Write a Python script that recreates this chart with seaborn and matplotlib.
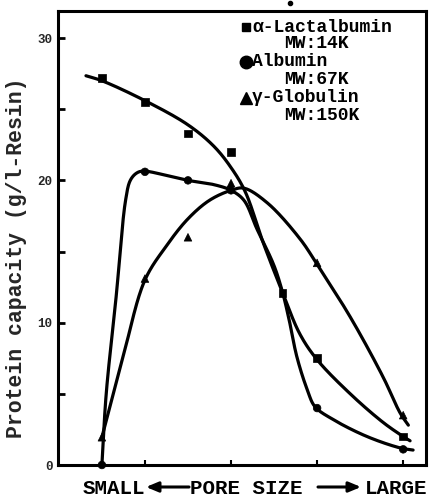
import numpy as np
import pandas as pd
import matplotlib
matplotlib.use("Agg")
import matplotlib.pyplot as plt
import seaborn as sns

# Measured capacities (g/l resin) against pore-size position (small -> large)
lact_x = [0, 1, 2, 3, 4.2, 5, 7]
lact_y = [27.2, 25.5, 23.3, 22.0, 12.1, 7.5, 2.0]
alb_x = [0, 1, 2, 3, 5, 7]
alb_y = [0.0, 20.6, 20.0, 19.3, 4.0, 1.1]
glob_x = [0, 1, 2, 3, 5, 7]
glob_y = [1.95, 13.1, 16.0, 19.8, 14.2, 3.5]

# Hand-drawn trend curves (knots along each freehand line)
lact_curve_x = [-0.37, 0.0, 1.0, 2.0, 2.6, 3.0, 3.33, 3.75, 4.2, 4.6, 5.0, 5.77, 6.53, 7.0, 7.16]
lact_curve_y = [27.35, 27.0, 25.6, 23.9, 22.4, 20.9, 19.2, 15.6, 12.1, 9.2, 7.4, 5.0, 3.0, 2.0, 1.7]
alb_curve_x = [0.0, 0.1, 0.33, 0.55, 0.66, 0.8, 0.95, 1.5, 2.0, 2.6, 3.0, 3.3, 3.6, 4.0, 4.2,
               4.35, 4.53, 4.77, 4.95, 5.37, 6.16, 6.93, 7.23]
alb_curve_y = [0.0, 5.0, 11.8, 18.6, 20.0, 20.5, 20.65, 20.35, 20.0, 19.7, 19.3, 18.6, 16.6, 14.0, 12.1,
               10.2, 7.6, 5.3, 4.1, 3.2, 2.0, 1.2, 1.05]
glob_curve_x = [0.0, 0.5, 1.0, 1.5, 2.0, 2.5, 3.0, 3.3, 3.85, 4.6, 5.0, 5.77, 6.53, 6.93, 7.12]
glob_curve_y = [1.95, 7.7, 13.0, 15.4, 17.3, 18.6, 19.3, 19.45, 18.4, 15.9, 14.1, 10.4, 6.2, 3.65, 2.8]

legend_names = ["α-Lactalbumin", "Albumin", "γ-Globulin"]
mw_labels = ["MW:14K", "MW:67K", "MW:150K"]
y_ticks = [0, 10, 20, 30]
y_minor = [5, 15, 25]
x_ticks = [1, 3, 5, 7]

# screen scale of one unit on each axis, used to space the spline evenly on screen
PX_X, PX_Y = 43.0, 14.23


def catmull_rom(xs, ys, n=30):
    """Smooth centripetal Catmull-Rom path through the given knots."""
    p = np.column_stack([np.asarray(xs) * PX_X, np.asarray(ys) * PX_Y]).astype(float)
    p = np.vstack([2 * p[0] - p[1], p, 2 * p[-1] - p[-2]])
    out = []
    for i in range(1, len(p) - 2):
        p0, p1, p2, p3 = p[i - 1], p[i], p[i + 1], p[i + 2]
        t0 = 0.0
        t1 = t0 + np.linalg.norm(p1 - p0) ** 0.5
        t2 = t1 + np.linalg.norm(p2 - p1) ** 0.5
        t3 = t2 + np.linalg.norm(p3 - p2) ** 0.5
        t = np.linspace(t1, t2, n)[:, None]
        a1 = (t1 - t) / (t1 - t0) * p0 + (t - t0) / (t1 - t0) * p1
        a2 = (t2 - t) / (t2 - t1) * p1 + (t - t1) / (t2 - t1) * p2
        a3 = (t3 - t) / (t3 - t2) * p2 + (t - t2) / (t3 - t2) * p3
        b1 = (t2 - t) / (t2 - t0) * a1 + (t - t0) / (t2 - t0) * a2
        b2 = (t3 - t) / (t3 - t1) * a2 + (t - t1) / (t3 - t1) * a3
        c = (t2 - t) / (t2 - t1) * b1 + (t - t1) / (t2 - t1) * b2
        out.append(c if i == 1 else c[1:])
    c = np.vstack(out)
    return c[:, 0] / PX_X, c[:, 1] / PX_Y


sns.set_theme(style="ticks")
plt.rcParams["font.family"] = ["Liberation Mono", "DejaVu Sans"]
plt.rcParams["font.weight"] = "bold"

W, H = 430, 498
fig = plt.figure(figsize=(W / 100, H / 100), dpi=100)
fig.patch.set_facecolor("white")
ax = fig.add_axes([58 / W, 1 - 465 / H, (426 - 58) / W, (465 - 11) / H])
ax.set_facecolor("white")

LW = 2.3
for cx, cy in [(lact_curve_x, lact_curve_y), (alb_curve_x, alb_curve_y), (glob_curve_x, glob_curve_y)]:
    sx, sy = catmull_rom(cx, cy)
    sns.lineplot(x=sx, y=sy, sort=False, estimator=None, color="black", lw=LW, ax=ax)

pts = pd.concat([
    pd.DataFrame({"x": lact_x, "y": lact_y, "protein": legend_names[0]}),
    pd.DataFrame({"x": alb_x, "y": alb_y, "protein": legend_names[1]}),
    pd.DataFrame({"x": glob_x, "y": glob_y, "protein": legend_names[2]}),
])
sns.scatterplot(data=pts, x="x", y="y", style="protein",
                markers={legend_names[0]: "s", legend_names[1]: "o", legend_names[2]: "^"},
                color="black", s=30, edgecolor="black", linewidth=0.5,
                legend=False, ax=ax, clip_on=False, zorder=5)

ax.set_xlim(-1.02, 7.53)
ax.set_ylim(0, 31.9)
ax.set_xlabel("")
ax.set_ylabel("")
ax.set_xticks(x_ticks)
ax.set_xticklabels([])
ax.set_yticks(y_ticks)
ax.set_yticklabels([str(v) for v in y_ticks])
ax.set_yticks(y_minor, minor=True)
ax.tick_params(axis="y", which="both", direction="in", length=5, width=2, pad=4,
               labelsize=9, color="black")
ax.tick_params(axis="x", which="both", direction="in", length=3.5, width=1.5, color="black")
for lab in ax.get_yticklabels():
    lab.set_fontweight("bold")
for sp in ax.spines.values():
    sp.set_visible(True)
    sp.set_linewidth(2.2)
    sp.set_color("black")

# Legend block
def fx(px):
    return px / W

def fy(py):
    return 1 - py / H

TXT = dict(fontsize=13, fontweight="bold", va="center", ha="left", color="black")
row_y = [27, 62, 98]
mw_y = [44, 80, 116]
marks = ["s", "o", "^"]
msz = [6, 9, 8]
for name, mw, ry, my, mk, ms in zip(legend_names, mw_labels, row_y, mw_y, marks, msz):
    ax.plot([fx(246)], [fy(ry)], marker=mk, ms=ms, color="black", transform=fig.transFigure,
            clip_on=False, ls="none")
    fig.text(fx(252), fy(ry), name, **TXT)
    fig.text(fx(284), fy(my), mw, **TXT)

# Axis titles
fig.text(fx(17), fy(258), "Protein capacity (g/l-Resin)", rotation=90, fontsize=15.5,
         fontweight="bold", va="center", ha="center")
XT = dict(fontsize=15, fontweight="bold", va="center", color="black")
fig.text(fx(83), fy(488), "SMALL", ha="left", **XT)
fig.text(fx(190), fy(488), "PORE SIZE", ha="left", **XT)
fig.text(fx(427), fy(488), "LARGE", ha="right", **XT)
arrow = dict(arrowstyle="-|>,head_length=0.6,head_width=0.25", lw=2.2, color="black",
             shrinkA=0, shrinkB=0)
ax.annotate("", xy=(146, H - 487), xytext=(189, H - 487), xycoords="figure pixels",
            textcoords="figure pixels", arrowprops=arrow, annotation_clip=False)
ax.annotate("", xy=(361, H - 487), xytext=(318, H - 487), xycoords="figure pixels",
            textcoords="figure pixels", arrowprops=arrow, annotation_clip=False)

# Stray mark above the frame
ax.plot([fx(290)], [fy(3)], marker="o", ms=3, color="black", transform=fig.transFigure,
        clip_on=False, ls="none")

fig.savefig("out.png", dpi=100, facecolor="white")
